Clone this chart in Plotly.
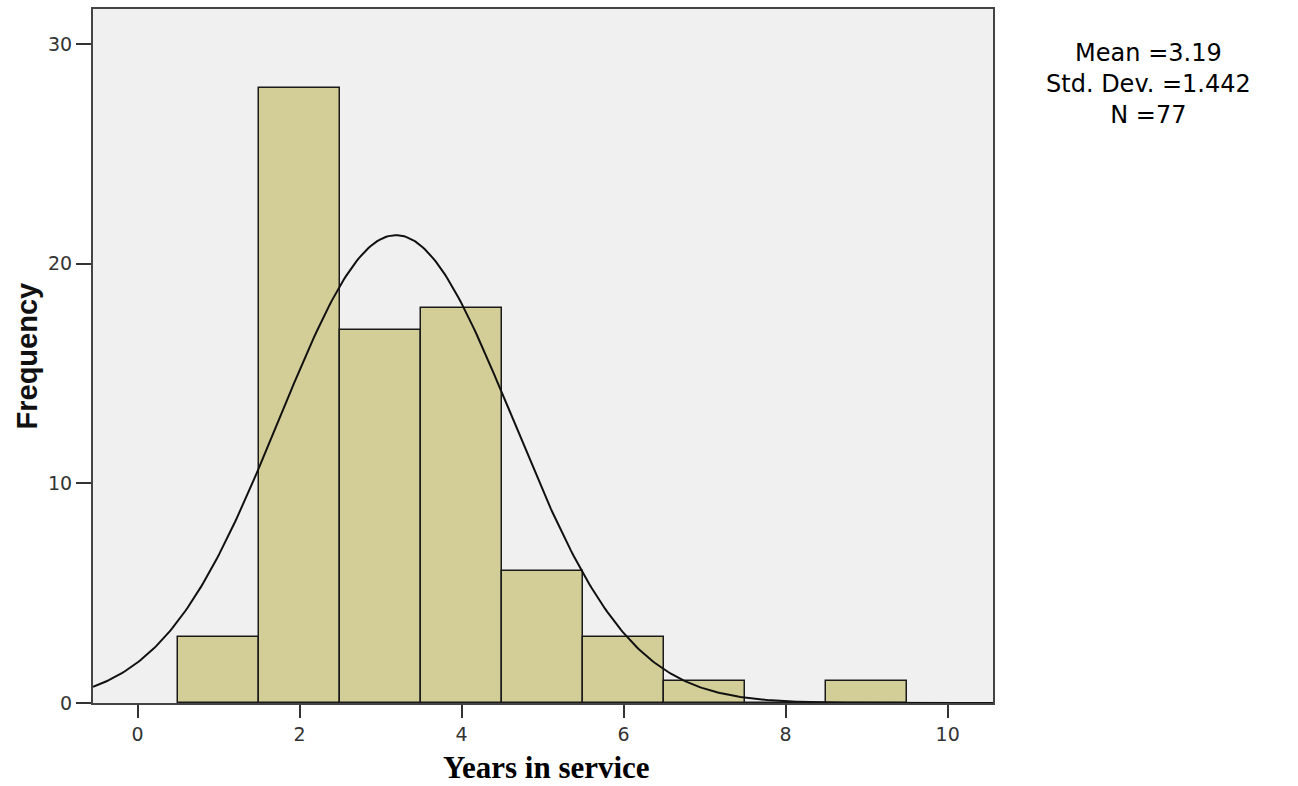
import numpy as np
import plotly.graph_objects as go

# Histogram data (bin centers, counts)
bin_centers = [1, 2, 3, 4, 5, 6, 7, 8, 9]
counts = [3, 28, 17, 18, 6, 3, 1, 0, 1]
x_ticks = [0, 2, 4, 6, 8, 10]
y_ticks = [0, 10, 20, 30]

# Summary statistics shown in the chart
mean_val = 3.19
std_val = 1.442
n_val = 77
bin_width = 1.0

x_range = [-0.55, 10.56]
y_range = [0, 31.6]

# Fitted normal curve from the displayed statistics
xs = np.linspace(x_range[0], x_range[1], 400)
ys = n_val * bin_width / (std_val * np.sqrt(2 * np.pi)) * np.exp(-0.5 * ((xs - mean_val) / std_val) ** 2)

fig = go.Figure()
fig.add_trace(go.Bar(
    x=bin_centers, y=counts, width=1.0,
    marker=dict(color="#D3CE98", line=dict(color="#1a1a1a", width=1.5)),
    hoverinfo="skip", showlegend=False,
))
fig.add_trace(go.Scatter(
    x=xs, y=ys, mode="lines",
    line=dict(color="#111111", width=2),
    hoverinfo="skip", showlegend=False,
))

axis_common = dict(
    showgrid=False, zeroline=False, showline=True, mirror=True,
    linecolor="#444444", linewidth=2, ticks="outside", tickcolor="#333333",
    tickwidth=2, tickfont=dict(family="DejaVu Sans", size=19, color="#333333"),
)

fig.update_layout(
    width=1298, height=786,
    margin=dict(l=93, r=305, t=7, b=83),
    paper_bgcolor="white", plot_bgcolor="#F0F0F0",
    bargap=0,
    xaxis=dict(range=x_range, tickvals=x_ticks, ticklen=13, **axis_common),
    yaxis=dict(range=y_range, tickvals=y_ticks, ticklen=15, **axis_common),
    annotations=[
        dict(text="<b>Frequency</b>", xref="paper", yref="paper", x=-0.0728, y=0.5,
             textangle=-90, showarrow=False, xanchor="center", yanchor="middle",
             font=dict(family="Liberation Sans, Arial", size=29, color="#111111")),
        dict(text="<b>Years in service</b>", xref="paper", yref="paper", x=0.5039, y=-0.1205,
             showarrow=False, xanchor="center", yanchor="bottom",
             font=dict(family="Liberation Serif, Times New Roman", size=31, color="#000000")),
        dict(text=f"Mean ={mean_val}<br>Std. Dev. ={std_val}<br>N ={n_val}",
             xref="paper", yref="paper", x=1.1728, y=0.959, showarrow=False,
             xanchor="center", yanchor="top", align="center",
             font=dict(family="DejaVu Sans", size=24, color="#000000")),
    ],
)

fig.write_html("out.html", config={"displayModeBar": False},
               post_script="document.body.style.margin='0';document.body.style.overflow='hidden';")
